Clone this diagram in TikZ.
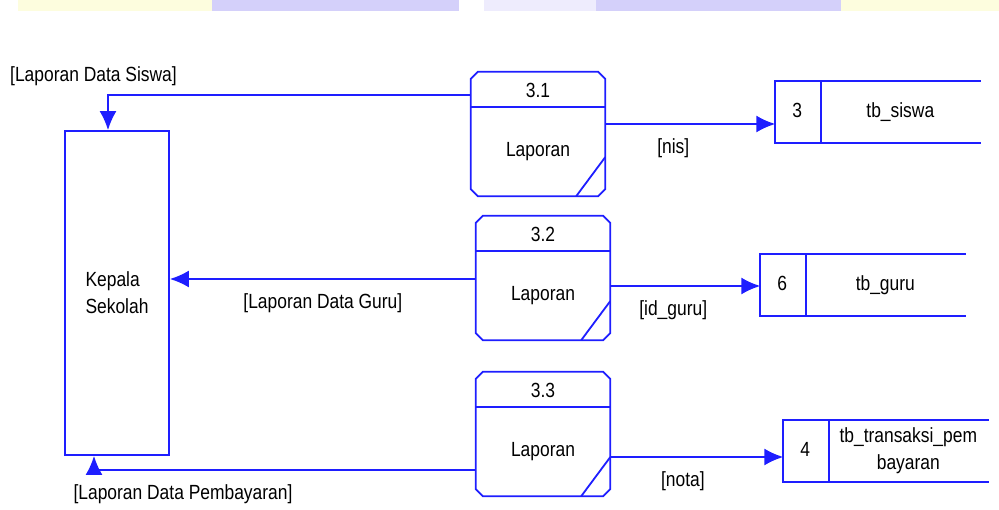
\documentclass[tikz,border=0pt]{standalone}
\usepackage{fontspec}
\setmainfont{Liberation Sans}[FakeStretch=0.85]
\usetikzlibrary{arrows.meta,positioning,calc}
\definecolor{dfdblue}{RGB}{30,30,255}
\definecolor{bandyellow}{RGB}{253,253,222}
\definecolor{bandlav}{RGB}{212,208,250}

\tikzset{
    line/.style={dfdblue, line width=1.8pt},
    flow/.style={line, -{Latex[length=19pt,width=17pt]}},
    proc/.style={minimum width=134pt, minimum height=124pt, inner sep=0pt},
    store/.style={minimum width=205pt, minimum height=62pt, inner sep=0pt},
    ent/.style={draw=dfdblue, line width=1.8pt, minimum width=104pt, minimum height=324pt, inner sep=0pt},
    lbl/.style={font=\fontsize{20.5}{27}\selectfont, text=black, inner sep=0pt},
}

\begin{document}
\begin{tikzpicture}[x=1pt, y=-1pt]
    \useasboundingbox (0,0) rectangle (999,510);

    % faded band at the top
    \fill[bandyellow] (18,0) rectangle (212,11);
    \fill[bandlav] (212,0) rectangle (459,11);
    \fill[bandlav!40] (484,0) rectangle (596,11);
    \fill[bandlav] (596,0) rectangle (841,11);
    \fill[bandyellow] (841,0) rectangle (999,11);

    % external entity
    \node[ent] (kep) at (117,293) {};
    \node[lbl, align=left] at (kep.center) {Kepala\\Sekolah};

    % processes 3.1 - 3.3
    \foreach \n/\x/\y/\nm in {3.1/538/134/p1, 3.2/543/278/p2, 3.3/543/434/p3} {
        \node[proc] (\nm) at (\x,\y) {};
        \draw[line] ($(\nm.north west)+(7,0)$) -- ($(\nm.north east)+(-7,0)$)
            -- ($(\nm.north east)+(0,7)$) -- ($(\nm.south east)+(0,-7)$)
            -- ($(\nm.south east)+(-7,0)$) -- ($(\nm.south west)+(7,0)$)
            -- ($(\nm.south west)+(0,-7)$) -- ($(\nm.north west)+(0,7)$) -- cycle;
        \draw[line] ($(\nm.north west)+(0,35)$) -- ($(\nm.north east)+(0,35)$);
        \draw[line] ($(\nm.south east)+(0,-39)$) -- ($(\nm.south east)+(-29,0)$);
        \node[lbl] at ($(\nm.north)+(0,19)$) {\n};
        \node[lbl] at ($(\nm.center)+(0,18)$) {Laporan};
    }

    % data stores
    \foreach \id/\txt/\x/\y/\nm in {3/tb\_siswa/878/112/s3, 6/tb\_guru/863/285/s6,
        4/{tb\_transaksi\_pem\\bayaran}/886/451/s4} {
        \node[store] (\nm) at (\x,\y) {};
        \draw[line] (\nm.north east) -- (\nm.north west)
            -- (\nm.south west) -- (\nm.south east);
        \draw[line] ($(\nm.north west)+(46,0)$) -- ($(\nm.south west)+(46,0)$);
        \node[lbl] at ($(\nm.west)+(22,-2)$) {\id};
        \node[lbl, align=center] at ($(\nm.west)+(125,0)$) {\txt};
    }

    % flows to the data stores
    \draw[flow] (p1.east |- 0,124) -- (s3.west |- 0,124) node[lbl, pos=0.4, below=14pt] {[nis]};
    \draw[flow] (p2.east |- 0,286) -- (s6.west |- 0,286) node[lbl, pos=0.42, below=14pt] {[id\_guru]};
    \draw[flow] (p3.east |- 0,457) -- (s4.west |- 0,457) node[lbl, pos=0.42, below=14pt] {[nota]};

    % reports to the headmaster
    \draw[flow] (p1.west |- 0,95) -| (kep.north -| 108,0);
    \node[lbl, anchor=west] at (10,76) {[Laporan Data Siswa]};
    \draw[flow] (p2.west |- 0,279) -- (kep.east |- 0,279)
        node[lbl, midway, below=14pt] {[Laporan Data Guru]};
    \draw[flow] (p3.west |- 0,470) -| (kep.south -| 94,0);
    \node[lbl] at (183,494) {[Laporan Data Pembayaran]};
\end{tikzpicture}
\end{document}
